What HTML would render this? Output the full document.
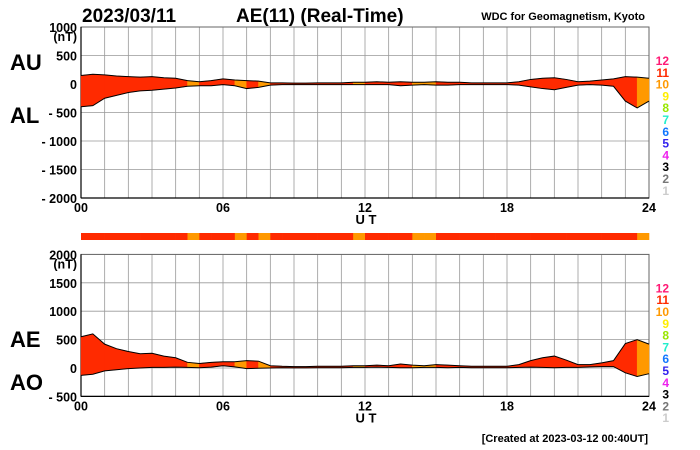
<!DOCTYPE html>
<html><head><meta charset="utf-8"><style>
html,body{margin:0;padding:0;background:#fff}
svg{display:block;font-family:"Liberation Sans",Arial,sans-serif}
</style></head><body>
<svg id="c" width="700" height="450" viewBox="0 0 700 450">
<g id="grid"></g><g id="marks"></g><g id="labels"></g>
</svg>
<script>
// half-hour samples 00..24 UT
const hours = [0,0.5,1,1.5,2,2.5,3,3.5,4,4.5,5,5.5,6,6.5,7,7.5,8,8.5,9,9.5,10,10.5,11,11.5,12,12.5,13,13.5,14,14.5,15,15.5,16,16.5,17,17.5,18,18.5,19,19.5,20,20.5,21,21.5,22,22.5,23,23.5,24];
const auValues = [150,170,160,140,130,120,130,110,100,60,40,60,90,70,60,50,20,20,15,15,20,20,20,30,30,40,30,40,30,30,40,30,30,20,20,20,20,40,80,100,110,80,40,50,70,90,130,120,100];
const alValues = [-400,-380,-250,-200,-150,-120,-110,-90,-70,-40,-30,-30,-10,-30,-80,-60,-20,-10,-10,-10,-10,-10,-10,-10,-10,-10,-10,-30,-20,-10,-20,-20,-10,-10,-10,-10,-10,-20,-50,-80,-100,-60,-20,-10,-20,-40,-300,-420,-300];
const aeValues = [550,600,420,340,290,250,260,210,180,100,80,100,110,110,130,120,40,30,25,25,30,30,30,40,40,50,40,70,50,40,60,50,40,30,30,30,30,60,130,180,210,140,60,60,90,130,430,500,420];
const aoValues = [-130,-110,-50,-30,-10,0,10,10,15,10,5,15,40,20,-10,-5,0,5,2,2,5,5,5,10,10,15,10,5,5,10,10,5,10,5,5,5,5,10,15,10,5,10,10,20,25,25,-85,-150,-100];
const levels = [11,11,11,11,11,11,11,11,11,10,11,11,11,10,11,10,11,11,11,11,11,11,11,10,11,11,11,11,10,10,11,11,11,11,11,11,11,11,11,11,11,11,11,11,11,11,11,10,8];
const yTicksTop = [1000,500,0,-500,-1000,-1500,-2000];
const yTicksBot = [2000,1500,1000,500,0,-500];
const xTickLabels = ["00","06","12","18","24"];
const legendNums = [12,11,10,9,8,7,6,5,4,3,2,1];
const legendCols = ["#ff1a75","#ff2a00","#ff9900","#ffee00","#99e600","#22eecc","#1177ff","#3322ee","#ee22ee","#000","#777","#ccc"];
const levelColor = {12:"#ff1a75",11:"#ff2a00",10:"#ff9900",9:"#ffee00",8:"#99e600"};

const NS="http://www.w3.org/2000/svg";
const X0=81,X1=649;
const x=h=>X0+(X1-X0)*h/24;
const yT=v=>84-v*28.5/500;
const yB=v=>368-v*28.4/500;
function mk(tag,attrs,parent){const e=document.createElementNS(NS,tag);for(const k in attrs)e.setAttribute(k,attrs[k]);document.getElementById(parent).appendChild(e);return e;}
function txt(s,xx,yy,size,anchor,col,parent){const t=mk("text",{x:xx,y:yy,"font-size":size,"font-weight":"bold","text-anchor":anchor,fill:col},parent||"labels");t.textContent=s;return t;}

function panel(yf,ticks,top,name){
  const yt=yf(ticks[0]),yb=yf(ticks[ticks.length-1]);
  for(let h=0;h<=24;h++){const l=mk("line",{x1:x(h),x2:x(h),y1:yt,y2:yb,stroke:"#999","stroke-width":0.8},"grid");
    
    }
  ticks.forEach(v=>{const l=mk("line",{x1:X0,x2:X1,y1:yf(v),y2:yf(v),stroke:"#999","stroke-width":0.8},"grid");
    
    
    const t=txt(v<0?"- "+(-v):String(v),77,yf(v)+5,12.5,"end","#000");
    
    });
  txt("(nT)",77,yt+14,12.5,"end","#000");
  mk("rect",{x:X0,y:yt,width:X1-X0,height:yb-yt,fill:"none",stroke:"#666","stroke-width":1},"grid");
  mk("line",{x1:X0,x2:X0,y1:yt,y2:yb,stroke:"#000","stroke-width":1.2},"grid");
  mk("line",{x1:X0,x2:X1,y1:yb,y2:yb,stroke:"#000","stroke-width":1.2},"grid");
  xTickLabels.forEach((s,i)=>{const t=txt(s,x(i*6),yb+14,12.5,"middle","#000");
    
    });
  txt("U T",366,yb+26,13,"middle","#000");
  legendNums.forEach((n,i)=>{const t=txt(String(n),669,yt+38+i*11.8,12,"end",legendCols[i]);
    
    });
}
panel(yT,yTicksTop,true,"top");
panel(yB,yTicksBot,false,"bottom");

function band(upper,lower,yf,name){
  for(let i=0;i<hours.length-1;i++){
    const p=[x(hours[i])+","+yf(upper[i]),x(hours[i+1])+","+yf(upper[i+1]),x(hours[i+1])+","+yf(lower[i+1]),x(hours[i])+","+yf(lower[i])].join(" ");
    const e=mk("polygon",{points:p,fill:levelColor[levels[i]],stroke:levelColor[levels[i]],"stroke-width":0.5},"marks");
    
    
  }
  [upper,lower].forEach((s,j)=>{
    const l=mk("polyline",{points:hours.map((h,i)=>x(h)+","+yf(s[i])).join(" "),fill:"none",stroke:"#000","stroke-width":1},"marks");
    
    
  });
}
band(auValues,alValues,yT,"au-al");
band(aeValues,aoValues,yB,"ae-ao");

// activity strip
for(let i=0;i<hours.length-1;i++){
  const r=mk("rect",{x:x(hours[i]),y:233,width:x(hours[i+1])-x(hours[i])+0.3,height:7,fill:levelColor[levels[i]]},"marks");
  
  
}

let t;
t=txt("2023/03/11",82,22,19,"start","#000");
t=txt("AE(11) (Real-Time)",236,22,19,"start","#000");
t=txt("WDC for Geomagnetism, Kyoto",645,20,11,"end","#000");
t=txt("AU",10,70,22,"start","#000");
t=txt("AL",10,123,22,"start","#000");
t=txt("AE",10,347,22,"start","#000");
t=txt("AO",10,390,22,"start","#000");
t=txt("[Created at 2023-03-12 00:40UT]",648,442,11,"end","#000");
</script>
</body></html>
